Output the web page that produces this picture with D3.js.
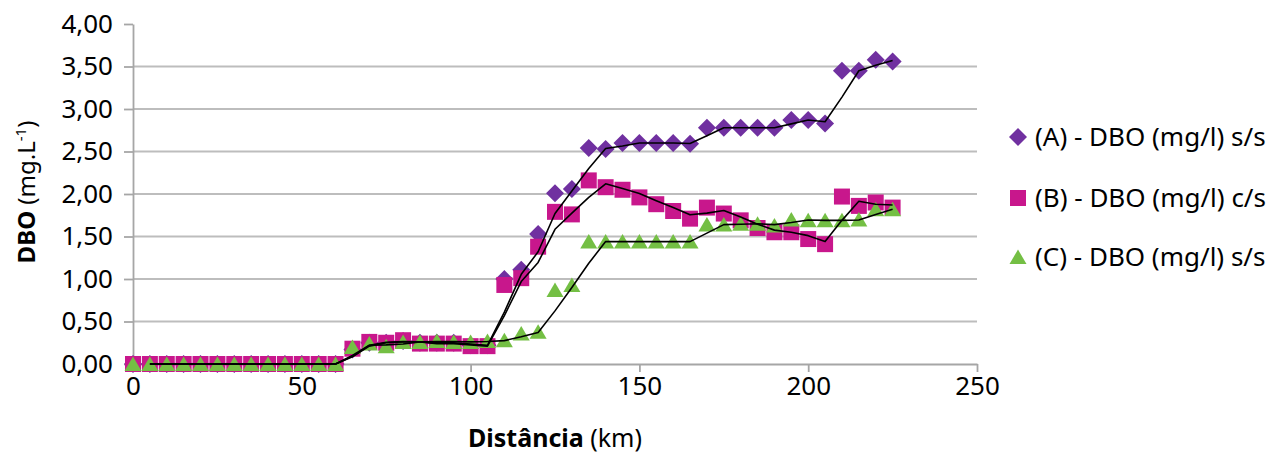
<!DOCTYPE html>
<html>
<head>
<meta charset="utf-8">
<script src="https://cdn.jsdelivr.net/npm/d3@7"></script>
<style>
  html, body { margin: 0; padding: 0; background: #fff; }
  svg { display: block; font-family: "Noto Sans", sans-serif; }
</style>
</head>
<body>
<svg id="chart" width="1267" height="455"></svg>
<script>
// distance (km), one reading every 5 km
const distances = d3.range(0, 230, 5);

const serieA = [0, 0, 0, 0, 0, 0, 0, 0, 0, 0, 0, 0, 0,
	0.17, 0.25, 0.25, 0.27, 0.25, 0.25, 0.25, 0.22, 0.22,
	1.00, 1.11, 1.53, 2.01, 2.06, 2.54, 2.53, 2.60, 2.60, 2.60, 2.60, 2.59,
	2.78, 2.78, 2.78, 2.78, 2.78, 2.87, 2.87, 2.83, 3.45, 3.45, 3.58, 3.56];

const serieB = [0, 0, 0, 0, 0, 0, 0, 0, 0, 0, 0, 0, 0,
	0.18, 0.26, 0.25, 0.28, 0.24, 0.24, 0.24, 0.21, 0.21,
	0.93, 1.01, 1.38, 1.79, 1.76, 2.16, 2.08, 2.05, 1.96, 1.88, 1.80, 1.71,
	1.84, 1.77, 1.69, 1.60, 1.55, 1.55, 1.47, 1.41, 1.97, 1.86, 1.90, 1.84];

const serieC = [0, 0, 0, 0, 0, 0, 0, 0, 0, 0, 0, 0, 0,
	0.20, 0.24, 0.21, 0.26, 0.26, 0.27, 0.26, 0.26, 0.27,
	0.28, 0.36, 0.38, 0.87, 0.93, 1.44, 1.44, 1.44, 1.44, 1.44, 1.44, 1.44,
	1.64, 1.64, 1.65, 1.65, 1.63, 1.70, 1.69, 1.69, 1.69, 1.70, 1.82, 1.82];

const seriesNames = ["(A) - DBO (mg/l) s/s", "(B) - DBO (mg/l) c/s", "(C) - DBO (mg/l) s/s"];
const seriesColors = ["#7030a0", "#c8178c", "#74bf44"];
const xTicks = [0, 50, 100, 150, 200, 250];
const yTicks = [0, 0.5, 1, 1.5, 2, 2.5, 3, 3.5, 4];

const svg = d3.select("#chart");
const margin = {top: 24, right: 290, bottom: 91, left: 133},
	width = 1267,
	height = 455;

const x = d3.scaleLinear().domain([0, 250]).range([margin.left, width - margin.right]);
const y = d3.scaleLinear().domain([0, 4]).range([height - margin.bottom, margin.top]);

const fmt = d => d3.format(".2f")(d).replace(".", ",");

// gridlines (no line on 4,00)
svg.append("g")
	.selectAll("line")
	.data(yTicks.filter(d => d > 0 && d < 4))
	.join("line")
	.attr("x1", x(0)).attr("x2", x(250))
	.attr("y1", d => y(d)).attr("y2", d => y(d))
	.attr("stroke", "#bdbdbd")
	.attr("stroke-width", 1.8);

// y axis
const yAxis = g => g
	.attr("transform", `translate(${x(0)},0)`)
	.call(d3.axisLeft(y).tickValues(yTicks).tickFormat(fmt).tickSizeInner(9).tickSizeOuter(0).tickPadding(11))
	.call(g => g.selectAll("line, path").attr("stroke", "#a6a6a6").attr("stroke-width", 1.8))
	.call(g => g.selectAll("text").attr("font-size", 26).attr("fill", "#000").attr("font-family", "Noto Sans"));

const xAxis = g => g
	.attr("transform", `translate(0,${y(0)})`)
	.call(d3.axisBottom(x).tickValues(xTicks).tickFormat(d3.format("d")).tickSizeInner(8).tickSizeOuter(0).tickPadding(5))
	.call(g => g.selectAll("line, path").attr("stroke", "#a6a6a6").attr("stroke-width", 1.8))
	.call(g => g.selectAll("text").attr("font-size", 26).attr("fill", "#000").attr("font-family", "Noto Sans"));

svg.append("g").call(yAxis);
svg.append("g").call(xAxis);

// marker shapes
const shapes = [
	"M0,-9L9,0L0,9L-9,0Z",
	"M-8,-8H8V8H-8Z",
	"M0,-7.5L8.5,7L-8.5,7Z"
];

const allSeries = [serieA, serieB, serieC];

allSeries.forEach((vals, i) => {
	svg.append("g")
		.selectAll("path")
		.data(vals.map((v, j) => ({km: distances[j], v})))
		.join("path")
		.attr("d", shapes[i])
		.attr("transform", d => `translate(${x(d.km)},${y(d.v)})`)
		.attr("fill", seriesColors[i]);
});

// 2-period moving average trend lines
const line = d3.line()
	.defined(d => d.v !== null)
	.x(d => x(d.km))
	.y(d => y(d.v));

allSeries.forEach(vals => {
	const avg = vals.map((v, j) => ({km: distances[j], v: j === 0 ? null : (v + vals[j - 1]) / 2}));
	svg.append("path")
		.datum(avg)
		.attr("fill", "none")
		.attr("stroke", "#000")
		.attr("stroke-width", 1.6)
		.attr("stroke-linejoin", "round")
		.attr("d", line);
});

// legend
const legendRows = [137, 198, 257];
const legend = svg.append("g");
seriesNames.forEach((name, i) => {
	legend.append("path")
		.attr("d", shapes[i])
		.attr("transform", `translate(1018,${legendRows[i]})`)
		.attr("fill", seriesColors[i]);
	legend.append("text")
		.attr("x", 1035)
		.attr("y", legendRows[i])
		.attr("dy", "0.36em")
		.attr("font-size", 26)
		.text(name);
});

// axis titles
const xTitle = svg.append("text")
	.attr("x", 555)
	.attr("y", 447)
	.attr("text-anchor", "middle")
	.attr("font-size", 25);
xTitle.append("tspan").attr("font-weight", "bold").text("Distância");
xTitle.append("tspan").text(" (km)");

const yTitle = svg.append("text")
	.attr("transform", "translate(35,192) rotate(-90)")
	.attr("text-anchor", "middle")
	.attr("font-size", 24);
yTitle.append("tspan").attr("font-weight", "bold").text("DBO");
yTitle.append("tspan").text(" (mg.L");
yTitle.append("tspan").attr("font-size", 15).attr("dy", -9).text("-1");
yTitle.append("tspan").attr("dy", 9).text(")");
</script>
</body>
</html>
